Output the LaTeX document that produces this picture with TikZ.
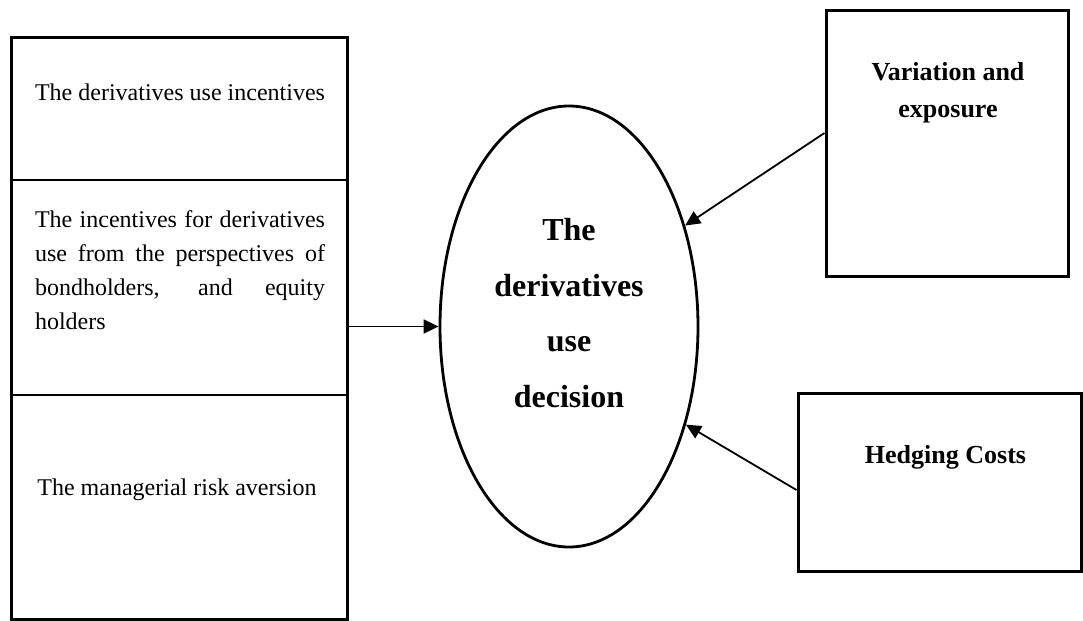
\documentclass[tikz,border=0pt]{standalone}
\usepackage{fontspec}
\setmainfont{Liberation Serif}
\usetikzlibrary{shapes.geometric,arrows.meta}
\newcommand\jline[1]{\leavevmode\hbox to 145pt{\spaceskip=3pt plus 1fil\relax #1}}
\begin{document}
\begin{tikzpicture}[x=0.5pt,y=-0.5pt,
  box/.style={draw, line width=1.5pt, rectangle, inner sep=0pt},
  divider/.style={line width=1pt},
  conn/.style={line width=0.9pt, -{Triangle[length=7.5pt,width=7pt]}},
  reg/.style={font=\fontsize{12}{17}\selectfont, inner sep=0pt},
  bld/.style={font=\bfseries\fontsize{13}{18.5}\selectfont, inner sep=0pt, align=center},
  big/.style={font=\bfseries\fontsize{16}{27.7}\selectfont, inner sep=0pt, align=center},
  ]
\useasboundingbox (0,0) rectangle (1083,621);
% left box
\node[box, minimum width=168pt, minimum height=291pt] (lbox) at (179,328) {};
\coordinate (d1) at (0,180);
\coordinate (d2) at (0,395);
\draw[divider] (lbox.west |- d1) -- (lbox.east |- d1);
\draw[divider] (lbox.west |- d2) -- (lbox.east |- d2);
\node[reg, anchor=base] (t1) at (180,100) {The derivatives use incentives};
\node[reg, text width=145pt, align=left] (t2) at (180,270) {%
\jline{The incentives for derivatives}\\
\jline{use from the perspectives of}\\
\jline{bondholders, and equity}\\
holders};
\node[reg, anchor=base] (t3) at (177,495) {The managerial risk aversion};
% ellipse
\node[draw, ellipse, line width=1.4pt, minimum width=129pt, minimum height=220.5pt, inner sep=0pt] (dec) at (569,326.5) {};
\node[big] (dect) at (569,313) {The\\derivatives\\use\\decision};
% right boxes
\node[box, minimum width=121pt, minimum height=133pt] (var) at (947,143) {};
\node[bld] (vart) at (948,93) {Variation and\\exposure};
\node[box, minimum width=141.5pt, minimum height=89pt] (hed) at (939.5,482) {};
\node[bld, anchor=base] (hedt) at (945.5,463) {Hedging Costs};
% connectors
\draw[conn] (lbox.east |- dec.west) -- (dec.west);
\draw[conn] ([yshift=5pt]var.west) -- (dec.41);
\draw[conn] ([yshift=-4pt]hed.west) -- (dec.-40);
\end{tikzpicture}
\end{document}
